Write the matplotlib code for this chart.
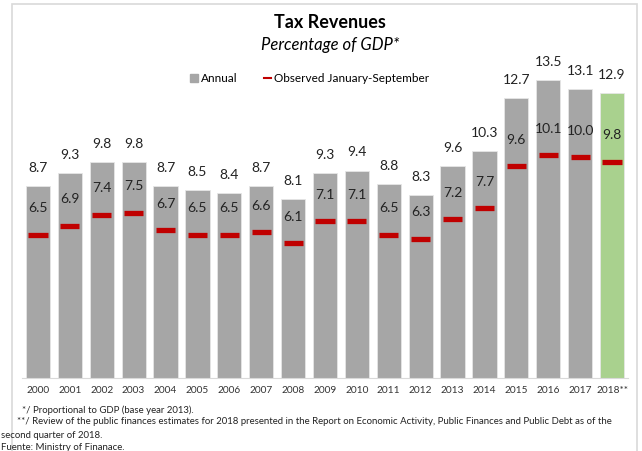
import matplotlib.pyplot as plt
import numpy as np
from matplotlib.patches import Rectangle
from matplotlib.lines import Line2D

plt.rcParams['font.family'] = ['Lato', 'DejaVu Sans']

years = ['2000', '2001', '2002', '2003', '2004', '2005', '2006', '2007', '2008', '2009',
         '2010', '2011', '2012', '2013', '2014', '2015', '2016', '2017', '2018**']
annual = [8.7, 9.3, 9.8, 9.8, 8.7, 8.5, 8.4, 8.7, 8.1, 9.3,
          9.4, 8.8, 8.3, 9.6, 10.3, 12.7, 13.5, 13.1, 12.9]
jan_sep = [6.5, 6.9, 7.4, 7.5, 6.7, 6.5, 6.5, 6.6, 6.1, 7.1,
           7.1, 6.5, 6.3, 7.2, 7.7, 9.6, 10.1, 10.0, 9.8]

GRAY = '#a6a6a6'
GREEN = '#a9d18e'
RED = '#c00000'

W, H = 642, 451
fig = plt.figure(figsize=(W / 100, H / 100), dpi=100)

# light frame around the chart
fig.patches.append(Rectangle((12 / W, -0.01), 625 / W, 1 - 4 / H + 0.01,
                             transform=fig.transFigure, fill=False,
                             edgecolor='#d9d9d9', linewidth=1.2))

ax = fig.add_axes([22 / W, 1 - 378 / H, 606 / W, 331 / H])
x = np.arange(len(years))
colors = [GRAY] * (len(years) - 1) + [GREEN]
ax.bar(x, annual, width=0.76, color=colors, edgecolor='#e6e6e6', linewidth=0.6, zorder=2)
ax.hlines(jan_sep, x - 0.3, x + 0.3, colors=RED, linewidth=3.8, zorder=3)

for i in x:
    ax.text(i, annual[i] + 0.55, f'{annual[i]:.1f}', ha='center', va='bottom',
            fontsize=10, color='#222222')
    ax.text(i, jan_sep[i] + 1.2, f'{jan_sep[i]:.1f}', ha='center', va='center',
            fontsize=10, color='#222222')

ax.set_xlim(-0.5, len(years) - 0.5)
ax.set_ylim(0, 15)
ax.set_xticks(x)
ax.set_xticklabels(years, fontsize=7.3, color='#333333')
ax.tick_params(axis='x', length=0, pad=6)
ax.set_yticks([])
for s in ['top', 'right', 'left']:
    ax.spines[s].set_visible(False)
ax.spines['bottom'].set_color('#d9d9d9')
ax.set_facecolor('none')

fig.text(330 / W, 1 - 22 / H, 'Tax Revenues', ha='center', va='center',
         fontsize=13, fontweight='bold')
fig.text(330 / W, 1 - 45 / H, 'Percentage of GDP*', ha='center', va='center',
         fontsize=12, style='italic')

handles = [Line2D([], [], marker='s', linestyle='none', color=GRAY, markersize=6),
           Line2D([], [], color=RED, linewidth=1.5)]
fig.legend(handles, ['Annual', 'Observed January-September'], loc='center',
           bbox_to_anchor=(310 / W, 1 - 79 / H), ncol=2, frameon=False,
           fontsize=8.5, handlelength=0.6, handletextpad=0.3, columnspacing=2.2)

notes = [
    (22, 410, '*/ Proportional to GDP (base year 2013).'),
    (17, 422, '**/ Review of the public finances estimates for 2018 presented in the Report on '
              'Economic Activity, Public Finances and Public Debt as of the'),
    (1, 435, 'second quarter of 2018.'),
    (1, 447, 'Fuente: Ministry of Finanace.'),
]
for nx, ny, txt in notes:
    fig.text(nx / W, 1 - ny / H, txt, ha='left', va='center', fontsize=6.9, color='#222222')

fig.savefig('out.png', dpi=100)
